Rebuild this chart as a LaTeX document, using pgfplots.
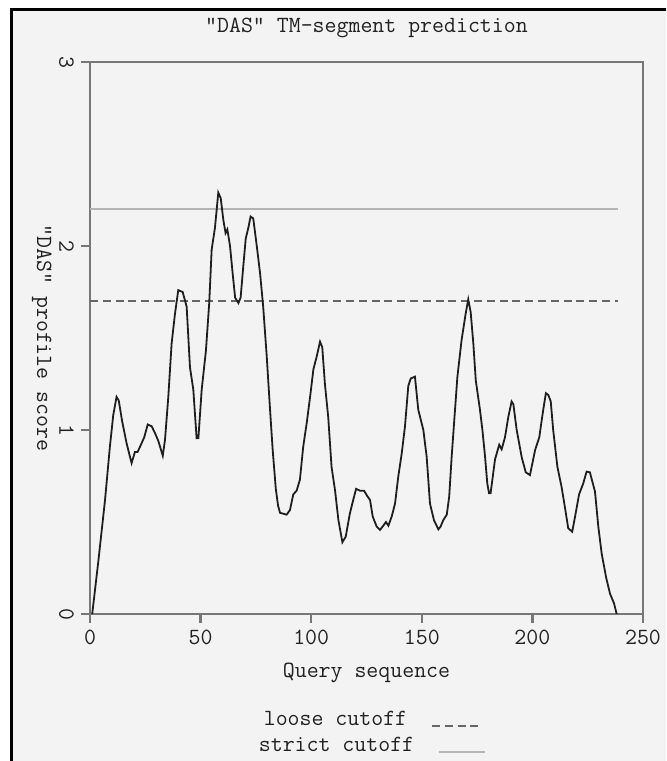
\documentclass[border=0pt]{standalone}
\usepackage{fontspec}
\renewcommand*\familydefault{\ttdefault}
\usepackage{pgfplots}
\pgfplotsset{compat=1.18}
\definecolor{bg}{HTML}{F3F3F3}
\definecolor{axgray}{HTML}{777777}
\definecolor{txt}{HTML}{222222}
\definecolor{loosec}{HTML}{666666}
\definecolor{strictc}{HTML}{B4B4B4}
\definecolor{curve}{HTML}{1E1E1E}
\newcommand\chfont{\ttfamily\fontsize{11.6pt}{13.5pt}\selectfont}
\begin{document}
\begin{tikzpicture}
\useasboundingbox (0,0) rectangle (333pt,380.5pt);
\fill[white] (0,0) rectangle (333pt,380.5pt);
\fill[bg] (5.5pt,0) rectangle (333pt,375.5pt);
\draw[black, line width=1.5pt] (5.5pt,0) -- (5.5pt,375.5pt) -- (333pt,375.5pt);
\begin{axis}[
  at={(45pt,73.5pt)}, anchor=south west,
  scale only axis, width=276.5pt, height=276pt,
  xmin=0, xmax=250, ymin=0, ymax=3,
  xtick={0,50,100,150,200,250}, ytick={0,1,2,3},
  tick align=outside, xtick pos=bottom, ytick pos=left,
  major tick length=4.5pt,
  axis line style={axgray, line width=1.4pt},
  every tick/.style={axgray, line width=1.2pt},
  /pgf/number format/assume math mode=true,
  font=\chfont,
  ticklabel style={font=\chfont, text=txt},
  yticklabel style={rotate=-90, anchor=north},
  every axis title shift=0pt,
  title={"DAS" TM-segment prediction},
  title style={at={(axis description cs:0.5,1.0616)}, anchor=center, text=txt, font=\chfont},
  xlabel={Query sequence},
  xlabel style={at={(axis description cs:0.5,-0.107)}, anchor=center, text=txt, font=\chfont},
  ylabel={"DAS" profile score},
  ylabel style={at={(axis description cs:-0.087,0.5)}, anchor=center, rotate=180, text=txt, font=\chfont},
  legend style={at={(axis description cs:0.507,-0.2156)}, anchor=center, draw=none, fill=none,
    font=\chfont, text=txt, row sep=0.5pt,
    cells={anchor=east},
    /tikz/every odd column/.append style={column sep=6.5pt}},
  legend plot pos=right,
]
\addplot[loosec, line width=0.9pt, dash pattern=on 4pt off 2.4pt,
  legend image code/.code={\draw[loosec, line width=0.9pt, dash pattern=on 4pt off 2.4pt] (0pt,-3pt) -- (23pt,-3pt);}]
  coordinates {(0,1.7) (238.5,1.7)};
\addlegendentry{loose cutoff\hspace*{3.5pt}}
\addplot[strictc, line width=0.8pt,
  legend image code/.code={\draw[strictc, line width=0.8pt] (3.5pt,-3pt) -- (26.5pt,-3pt);}]
  coordinates {(0,2.2) (238.5,2.2)};
\addlegendentry{strict cutoff}
\addplot[curve, line width=0.9pt, forget plot] coordinates {
(1,0) (3.8,0.29) (6.8,0.62) (9.0,0.91) (10.5,1.08) (12.0,1.18) (13.0,1.16) (14.5,1.05)
(16.5,0.93) (18.8,0.82) (20.3,0.88) (21.5,0.88) (23.4,0.93) (24.5,0.96) (26.1,1.03)
(27.9,1.02) (29.5,0.98) (30.9,0.94) (32.9,0.86) (33.9,0.946) (35.4,1.18) (36.9,1.47)
(38.4,1.63) (39.9,1.76) (41.9,1.75) (43.7,1.67) (45.2,1.34) (46.7,1.22) (48.2,0.955)
(49,0.956) (50.5,1.22) (52.4,1.43) (53.9,1.69) (55.0,1.98) (56.5,2.10) (58.0,2.29)
(59.1,2.26) (60.3,2.14) (61.3,2.07) (62.1,2.09) (63.3,2.0) (64.5,1.85) (65.6,1.72)
(67.1,1.69) (68.1,1.72) (69.3,1.89) (70.4,2.04) (71.6,2.10) (72.6,2.16) (73.8,2.15)
(75.4,2.0) (76.9,1.85) (78.3,1.67) (79.9,1.40) (81.4,1.11) (82.6,0.89) (84.0,0.68)
(85.0,0.59) (85.9,0.55) (88.9,0.54) (90.4,0.565) (91.9,0.65) (93.4,0.67) (94.9,0.73)
(96.4,0.91) (98.0,1.04) (99.5,1.18) (101.0,1.33) (102.5,1.40) (104.0,1.48) (105.0,1.45)
(106.2,1.25) (107.7,1.07) (109.2,0.80) (110.8,0.67) (112.3,0.51) (114.1,0.39) (115.6,0.42)
(117.5,0.547) (119.0,0.62) (120.3,0.68) (122.1,0.67) (123.9,0.67) (125.4,0.64) (126.6,0.62)
(127.8,0.53) (129.6,0.475) (131.1,0.457) (132.6,0.48) (133.8,0.50) (134.9,0.48) (136.4,0.53)
(137.9,0.60) (139.4,0.75) (140.9,0.87) (142.4,1.02) (143.9,1.24) (145.0,1.28) (146.9,1.29)
(148.4,1.11) (150.7,1.0) (152.2,0.855) (153.7,0.60) (155.5,0.51) (157.5,0.46) (158.5,0.475)
(159.7,0.51) (161.3,0.54) (162.4,0.64) (163.5,0.855) (164.6,1.04) (166.1,1.29) (168.0,1.49)
(169.8,1.63) (171.0,1.71) (172.1,1.64) (173.3,1.47) (174.4,1.27) (176.3,1.11) (177.4,1.0)
(178.6,0.855) (179.6,0.71) (180.4,0.656) (181.1,0.656) (183.1,0.84) (185.0,0.92) (186.1,0.895)
(187.6,0.96) (189.1,1.07) (190.6,1.155) (191.4,1.14) (192.9,1.0) (195.2,0.85) (197.0,0.77)
(198.9,0.755) (201.2,0.89) (203.1,0.96) (204.9,1.11) (206.1,1.20) (207.2,1.19) (208.3,1.155)
(209.4,1.0) (211.3,0.80) (213.2,0.69) (214.7,0.58) (216.2,0.466) (218.0,0.447) (219.3,0.53)
(221.1,0.65) (223.0,0.71) (224.5,0.774) (226.0,0.77) (228.3,0.665) (229.8,0.475) (231.3,0.33)
(233.3,0.20) (235.1,0.11) (236.9,0.058) (238.1,0.0)
};
\end{axis}
\end{tikzpicture}
\end{document}
